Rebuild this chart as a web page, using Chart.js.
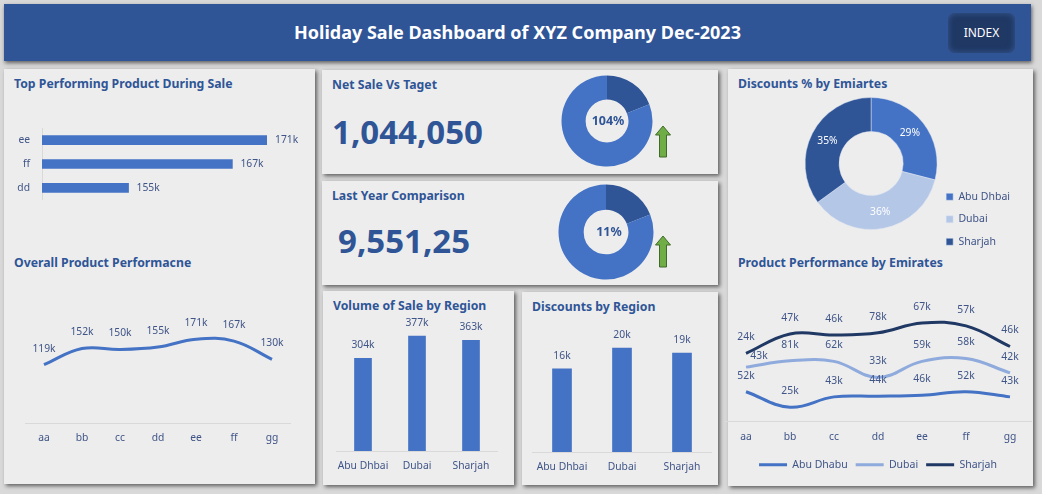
<!DOCTYPE html>
<html>
<head>
<meta charset="utf-8">
<title>Holiday Sale Dashboard</title>
<script src="https://cdn.jsdelivr.net/npm/chart.js@4"></script>
<style>
  html, body { margin: 0; padding: 0; }
  body { width: 1042px; height: 494px; background: #d9d9d9; position: relative; overflow: hidden; font-family: "Noto Sans", sans-serif; }
  .panel { position: absolute; background: #ededed; box-shadow: 2px 2px 4px #5f5f5f; }
  .header { position: absolute; left: 4px; top: 4px; width: 1027px; height: 57px; background: #2f5597; box-shadow: 1px 2px 4px #5f5f5f; color: #fff; font-weight: 700; font-size: 18px; line-height: 57px; text-align: center; }
  .index { position: absolute; left: 948px; top: 13px; width: 67px; height: 40px; border-radius: 7px; background: #1f3864; box-shadow: inset 0 0 6px #3a5a96; color: #fff; font-size: 12px; line-height: 40px; text-align: center; }
  .title { position: absolute; color: #2f5597; font-weight: 700; font-size: 12.25px; line-height: 16px; white-space: nowrap; }
  .big { position: absolute; color: #2f5597; font-weight: 700; font-size: 33px; line-height: 40px; white-space: nowrap; }
  .center { position: absolute; color: #2f5597; font-weight: 700; font-size: 12.5px; line-height: 16px; transform: translate(-50%, -50%); }
  canvas { position: absolute; }
  svg { position: absolute; }
</style>
</head>
<body>
<div class="header">Holiday Sale Dashboard of XYZ Company Dec-2023</div>
<div class="index">INDEX</div>

<div class="panel" style="left:4px;top:69px;width:311px;height:415px"></div>
<div class="panel" style="left:322px;top:70px;width:396px;height:104px"></div>
<div class="panel" style="left:322px;top:181px;width:396px;height:104px"></div>
<div class="panel" style="left:323px;top:291px;width:191px;height:194px"></div>
<div class="panel" style="left:522px;top:292px;width:196px;height:193px"></div>
<div class="panel" style="left:728px;top:69px;width:305px;height:417px"></div>

<div class="title" style="left:14px;top:76px">Top Performing Product During Sale</div>
<div class="title" style="left:14px;top:255px">Overall Product Performacne</div>
<div class="title" style="left:332px;top:77px">Net Sale Vs Taget</div>
<div class="title" style="left:332px;top:188px">Last Year Comparison</div>
<div class="title" style="left:333px;top:298px">Volume of Sale by Region</div>
<div class="title" style="left:532px;top:299px">Discounts by Region</div>
<div class="title" style="left:738px;top:76px">Discounts % by Emiartes</div>
<div class="title" style="left:738px;top:255px">Product Performance by Emirates</div>

<div class="big" style="left:332px;top:112px">1,044,050</div>
<div class="big" style="left:338px;top:221px">9,551,25</div>

<canvas id="topProducts" width="311" height="104" style="left:4px;top:112px"></canvas>
<canvas id="overall" width="266" height="155" style="left:25px;top:305px"></canvas>
<canvas id="netDonut" width="100" height="100" style="left:557px;top:71px"></canvas>
<canvas id="yearDonut" width="100" height="100" style="left:556px;top:182px"></canvas>
<canvas id="volume" width="162" height="165" style="left:336px;top:309px"></canvas>
<canvas id="discounts" width="180" height="165" style="left:532px;top:322px"></canvas>
<canvas id="emiratesDonut" width="230" height="191" style="left:790px;top:68px"></canvas>
<canvas id="emiratesLines" width="308" height="195" style="left:724px;top:285px"></canvas>

<div class="center" style="left:608px;top:121px">104%</div>
<div class="center" style="left:609px;top:232px">11%</div>

<svg style="left:654px;top:125px" width="18" height="34"><polygon points="9,1 16.5,10 12.5,10 12.5,32 5.5,32 5.5,10 1.5,10" fill="#70ad47" stroke="#3f6b28" stroke-width="1"/></svg>
<svg style="left:654px;top:235px" width="18" height="34"><polygon points="9,1 16.5,10 12.5,10 12.5,32 5.5,32 5.5,10 1.5,10" fill="#70ad47" stroke="#3f6b28" stroke-width="1"/></svg>

<script>
// Data
var topNames = ['ee', 'ff', 'dd'];
var topValues = [171, 167, 155];

var products = ['aa', 'bb', 'cc', 'dd', 'ee', 'ff', 'gg'];
var overallValues = [119, 152, 150, 155, 171, 167, 130];

var netShare = [19, 81];
var yearShare = [19, 81];

var regions = ['Abu Dhbai', 'Dubai', 'Sharjah'];
var volumeValues = [304, 377, 363];
var discountValues = [16, 20, 19];
var discountShare = [29, 36, 35];

var abuDhabu = [52, 25, 43, 44, 46, 52, 43];
var dubai = [43, 81, 62, 33, 59, 58, 42];
var sharjah = [24, 47, 46, 78, 67, 57, 46];

var blue = '#4472c4';
var darkBlue = '#2f5597';
var lightBlue = '#b4c7e7';
var textColor = '#3f5487';
var axisColor = '#d9d9d9';
var font = { family: '"Noto Sans"', size: 10.3 };
// legend rows need sizes that add up exactly or the last entry wraps
var legendFont = { family: '"Noto Sans"', size: 10.5 };

Chart.defaults.animation = false;
Chart.defaults.responsive = false;
Chart.defaults.font.family = font.family;
Chart.defaults.plugins.tooltip.enabled = false;

// Draws the "171k" style labels next to each mark
var valueLabels = {
  id: 'valueLabels',
  afterDatasetsDraw: function (chart, args, opts) {
    if (!opts.show) return;
    var ctx = chart.ctx;
    ctx.save();
    ctx.font = font.size + 'px ' + font.family;
    ctx.textBaseline = 'middle';
    chart.data.datasets.forEach(function (ds, d) {
      chart.getDatasetMeta(d).data.forEach(function (el, i) {
        var nudge = (opts.nudge && opts.nudge[d + ':' + i]) || [0, 0];
        if (opts.side === 'right') {
          ctx.textAlign = 'left';
          ctx.fillStyle = textColor;
          ctx.fillText(ds.data[i] + 'k', el.x + opts.offset, el.y);
        } else if (opts.side === 'arc') {
          var p = el.getCenterPoint();
          ctx.textAlign = 'center';
          ctx.fillStyle = '#fff';
          ctx.fillText(ds.data[i] + '%', p.x, p.y);
        } else {
          ctx.textAlign = 'center';
          ctx.fillStyle = textColor;
          ctx.fillText(ds.data[i] + 'k', el.x + nudge[0], el.y - opts.offset + nudge[1]);
        }
      });
    });
    ctx.restore();
  }
};
Chart.register(valueLabels);

// tick padding also eats into the plot width, so the gap comes from tickLength
function xAxis(height) {
  return {
    offset: true,
    grid: { display: false, tickLength: 9 },
    border: { color: axisColor },
    ticks: { color: textColor, font: font, padding: 0, maxRotation: 0, autoSkip: false },
    afterFit: function (scale) { scale.height = height; }
  };
}

function columnChart(id, labels, values, max, thickness, topPad, axisHeight) {
  return new Chart(document.getElementById(id), {
    type: 'bar',
    data: { labels: labels, datasets: [{ data: values, backgroundColor: blue, barThickness: thickness }] },
    options: {
      layout: { padding: { top: topPad } },
      plugins: { legend: { display: false }, valueLabels: { show: true, offset: 13 } },
      scales: { x: xAxis(axisHeight), y: { display: false, min: 0, max: max } }
    }
  });
}

function smallDonut(id, values, radius, cutout) {
  return new Chart(document.getElementById(id), {
    type: 'doughnut',
    data: { datasets: [{ data: values, backgroundColor: [darkBlue, blue], borderWidth: 0 }] },
    options: { radius: radius, cutout: cutout, plugins: { legend: { display: false } } }
  });
}

// Top products
new Chart(document.getElementById('topProducts'), {
  type: 'bar',
  data: { labels: topNames, datasets: [{ data: topValues, backgroundColor: blue, barThickness: 9 }] },
  options: {
    indexAxis: 'y',
    layout: { padding: { right: 48 } },
    plugins: { legend: { display: false }, valueLabels: { show: true, side: 'right', offset: 8 } },
    scales: {
      x: { display: false, min: 145, max: 171 },
      y: {
        grid: { display: false, tickLength: 2 },
        border: { color: axisColor },
        ticks: { color: textColor, font: font, padding: 10 },
        afterFit: function (scale) { scale.width = 38; }
      }
    }
  }
});

// Overall line
new Chart(document.getElementById('overall'), {
  type: 'line',
  data: {
    labels: products,
    datasets: [{ data: overallValues, borderColor: blue, borderWidth: 3, tension: 0.4, pointRadius: 0, fill: false }]
  },
  options: {
    layout: { padding: { top: 20 } },
    plugins: { legend: { display: false }, valueLabels: { show: true, offset: 16 } },
    scales: { x: xAxis(37), y: { display: false, min: 0, max: 200 } }
  }
});

smallDonut('netDonut', netShare, 45.5, '47%');
smallDonut('yearDonut', yearShare, 47.5, '47%');

columnChart('volume', regions, volumeValues, 400, 17, 20, 23);
columnChart('discounts', regions, discountValues, 25, 19, 0, 35);

// Emirates share donut
new Chart(document.getElementById('emiratesDonut'), {
  type: 'doughnut',
  data: {
    labels: regions,
    datasets: [{ data: discountShare, backgroundColor: [blue, lightBlue, darkBlue], borderWidth: 0.5, borderColor: '#dfe5f0' }]
  },
  options: {
    radius: 66,
    cutout: '48.5%',
    layout: { padding: { left: 18 } },
    plugins: {
      valueLabels: { show: true, side: 'arc' },
      legend: {
        position: 'right',
        align: 'end',
        labels: { color: textColor, font: legendFont, boxWidth: 7, boxHeight: 7, padding: 12 }
      }
    }
  }
});

// Stacked lines by emirate
new Chart(document.getElementById('emiratesLines'), {
  type: 'line',
  data: {
    labels: products,
    datasets: [
      { label: 'Abu Dhabu', data: abuDhabu, borderColor: blue, backgroundColor: blue },
      { label: 'Dubai', data: dubai, borderColor: '#8faadc', backgroundColor: '#8faadc' },
      { label: 'Sharjah', data: sharjah, borderColor: '#1f3864', backgroundColor: '#1f3864' }
    ].map(function (ds) {
      return Object.assign(ds, { borderWidth: 3, tension: 0.4, pointRadius: 0, fill: false });
    })
  },
  options: {
    layout: { padding: { top: 22 } },
    plugins: {
      valueLabels: { show: true, offset: 16, nudge: { '1:0': [13, 5] } },
      legend: {
        position: 'bottom',
        labels: { color: textColor, font: legendFont, boxWidth: 28, boxHeight: 0, padding: 8 }
      }
    },
    scales: { x: xAxis(30), y: { display: false, stacked: true, min: 0, max: 200 } }
  }
});
</script>
</body>
</html>
